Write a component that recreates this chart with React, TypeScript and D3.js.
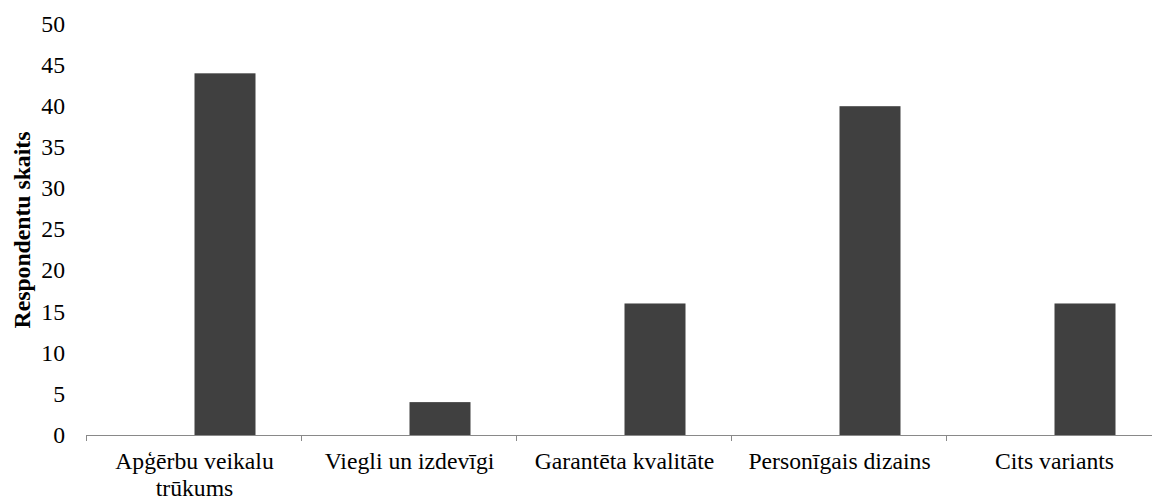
import React from "react";
import * as d3 from "d3";

const categories: string[][] = [
  ["Apģērbu veikalu", "trūkums"],
  ["Viegli un izdevīgi"],
  ["Garantēta kvalitāte"],
  ["Personīgais dizains"],
  ["Cits variants"],
];
const values: number[] = [44, 4, 16, 40, 16];
const yTicks: number[] = [0, 5, 10, 15, 20, 25, 30, 35, 40, 45, 50];
const yTitle = "Respondentu skaits";

export default function App() {
  const W = 1152;
  const H = 500;
  const ids = categories.map((_, i) => String(i));
  const x = d3.scaleBand<string>().domain(ids).range([87, 1162]).padding(0);
  const y = d3.scaleLinear().domain([0, 50]).range([435, 24]);
  const bw = x.bandwidth();
  const barW = (bw * 61) / 215;
  const font = "Liberation Serif, Times New Roman, serif";
  const axisColor = "#898989";
  const ts: React.CSSProperties = { fontFamily: font, fontSize: "23.7px" };

  return (
    <svg
      width={W}
      height={H}
      style={{ position: "absolute", left: 0, top: 0, background: "#fff" }}
    >
      {values.map((v, i) => {
        const cx = (x(ids[i]) as number) + bw / 2;
        return (
          <rect
            key={i}
            x={cx}
            y={y(v)}
            width={barW}
            height={y(0) - y(v)}
            fill="#404040"
          />
        );
      })}
      <line x1={86.5} x2={1162} y1={y(0) + 0.5} y2={y(0) + 0.5} stroke={axisColor} strokeWidth={1} />
      {ids.concat(["5"]).map((id, i) => {
        const px = Math.round(87 + i * bw) - 0.5;
        return (
          <line key={i} x1={px} x2={px} y1={y(0)} y2={y(0) + 6} stroke={axisColor} strokeWidth={1} />
        );
      })}
      {yTicks.map((t) => (
        <text key={t} x={65} y={y(t)} dy="0.33em" textAnchor="end" style={ts} fill="#000">
          {t}
        </text>
      ))}
      {categories.map((lines, i) => {
        const cx = (x(ids[i]) as number) + bw / 2;
        return (
          <text key={i} x={cx} y={469} textAnchor="middle" style={ts} fill="#000">
            {lines.map((l, j) => (
              <tspan key={j} x={cx} dy={j === 0 ? 0 : 27}>
                {l}
              </tspan>
            ))}
          </text>
        );
      })}
      <text
        transform={`translate(30, 230) rotate(-90)`}
        textAnchor="middle"
        style={{ ...ts, fontWeight: "bold" }}
        fill="#000"
      >
        {yTitle}
      </text>
    </svg>
  );
}
